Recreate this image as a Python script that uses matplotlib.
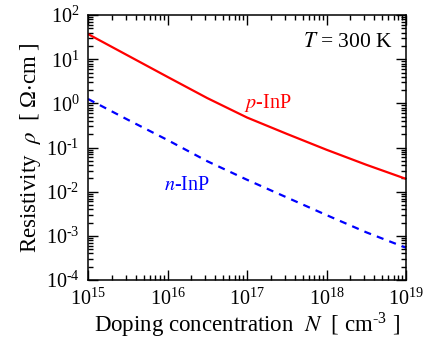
import numpy as np
import matplotlib
matplotlib.use("Agg")
import matplotlib.pyplot as plt
from matplotlib.ticker import LogLocator, NullFormatter, FuncFormatter

plt.rcParams['font.family'] = ['Liberation Serif', 'DejaVu Serif']
plt.rcParams['mathtext.fontset'] = 'stix'
plt.rcParams['font.size'] = 14.5

# log10 of doping concentration (cm^-3)
log_doping = [15.0, 15.5, 16.0, 16.5, 17.0, 17.5, 18.0, 18.5, 19.0]
# log10 of resistivity (Ohm cm)
log_rho_p = [1.57, 1.085, 0.60, 0.12, -0.32, -0.69, -1.05, -1.39, -1.71]
log_rho_n = [0.10, -0.37, -0.83, -1.31, -1.73, -2.13, -2.53, -2.92, -3.27]

doping = 10.0 ** np.array(log_doping)
rho_p = 10.0 ** np.array(log_rho_p)
rho_n = 10.0 ** np.array(log_rho_n)

HYPHEN = '\u2010'


def pow10(v, pos):
    # short hyphen instead of the wide minus sign
    e = int(round(np.log10(v)))
    s = str(e).replace('-', HYPHEN)
    return r'$\mathdefault{10^{' + s + '}}$'


fig = plt.figure(figsize=(4.38, 3.51), dpi=100)
ax = fig.add_axes([0.201, 0.2023, 0.726, 0.7547])

ax.plot(doping, rho_p, color='#ff0000', lw=1.6)
ax.plot(doping, rho_n, color='#0000ff', lw=1.6, ls=(0, (3.2, 2.8)))

ax.set_xscale('log')
ax.set_yscale('log')
ax.set_xlim(1e15, 1e19)
ax.set_ylim(1e-4, 1e2)

for axis in (ax.xaxis, ax.yaxis):
    axis.set_major_locator(LogLocator(base=10, numticks=10))
    axis.set_major_formatter(FuncFormatter(pow10))
    axis.set_minor_locator(LogLocator(base=10, subs=np.arange(2, 10), numticks=20))
    axis.set_minor_formatter(NullFormatter())

ax.tick_params(which='both', direction='in', top=True, right=True, width=1.0)
ax.tick_params(which='major', length=7, pad=6)
ax.tick_params(which='minor', length=3.5)
for s in ax.spines.values():
    s.set_linewidth(1.1)

ax.set_xlabel(r'Doping concentration  $N$  [ cm$^{\mathdefault{' + HYPHEN + '3}}$ ]',
              fontsize=16.5, labelpad=1)
ax.set_ylabel(r'Resistivity  $\rho$  [ $\mathdefault{\Omega}$$\cdot$cm ]',
              fontsize=16.5, labelpad=2)

ax.text(0.959, 0.898, r'$T$ = 300 K', transform=ax.transAxes, ha='right', va='center',
        fontsize=15.5)
ax.text(0.566, 0.668, r'$p$-InP', transform=ax.transAxes, ha='center', va='center',
        color='#ff0000')
ax.text(0.311, 0.358, r'$n$-InP', transform=ax.transAxes, ha='center', va='center',
        color='#0000ff')

fig.savefig('out.png', dpi=100)
